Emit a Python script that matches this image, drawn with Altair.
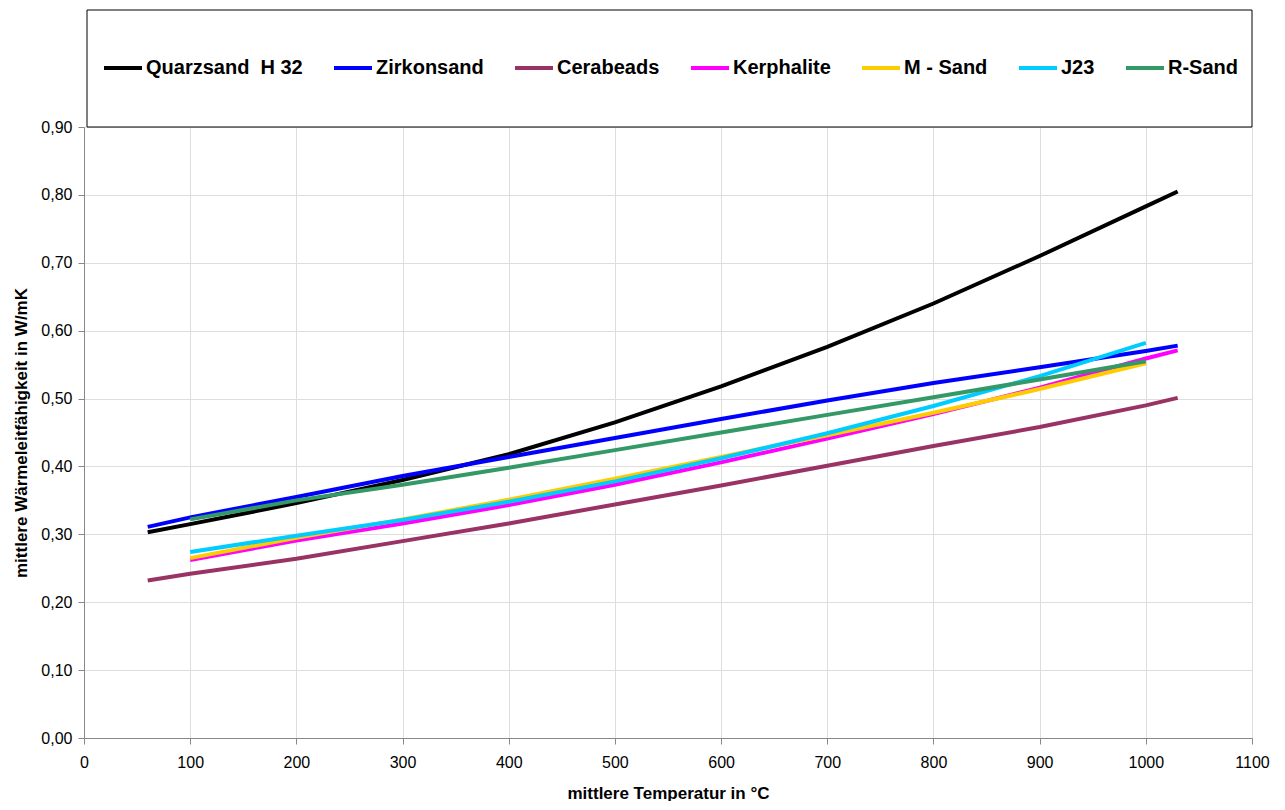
import altair as alt
import pandas as pd

# ---- data ----
series_names = ["Quarzsand\u00a0 H 32", "Zirkonsand", "Cerabeads", "Kerphalite",
                "M - Sand", "J23", "R-Sand"]
series_colors = ["#000000", "#0000FF", "#993366", "#FF00FF", "#FFCC00", "#00CCFF", "#339966"]

temp_long = [60, 100, 200, 300, 400, 500, 600, 700, 800, 900, 1000, 1030]
temp_kerph = [100, 200, 300, 400, 500, 600, 700, 800, 900, 1000, 1030]
temp_short = [100, 200, 300, 400, 500, 600, 700, 800, 900, 1000]

quarzsand = [0.303, 0.315, 0.346, 0.380, 0.418, 0.465, 0.518, 0.576, 0.640, 0.710, 0.783, 0.805]
zirkonsand = [0.311, 0.325, 0.355, 0.386, 0.414, 0.442, 0.470, 0.497, 0.523, 0.546, 0.570, 0.578]
cerabeads = [0.232, 0.242, 0.264, 0.290, 0.316, 0.344, 0.372, 0.401, 0.430, 0.458, 0.490, 0.501]
kerphalite = [0.262, 0.291, 0.316, 0.343, 0.373, 0.406, 0.441, 0.477, 0.516, 0.559, 0.571]
m_sand = [0.265, 0.295, 0.322, 0.351, 0.382, 0.414, 0.446, 0.479, 0.514, 0.552]
j23 = [0.274, 0.298, 0.321, 0.348, 0.378, 0.412, 0.449, 0.489, 0.533, 0.582]
r_sand = [0.322, 0.350, 0.373, 0.398, 0.424, 0.450, 0.476, 0.502, 0.528, 0.555]

x_ticks = [0, 100, 200, 300, 400, 500, 600, 700, 800, 900, 1000, 1100]
y_ticks = [0.0, 0.1, 0.2, 0.3, 0.4, 0.5, 0.6, 0.7, 0.8, 0.9]

series = [
    (series_names[0], temp_long, quarzsand),
    (series_names[1], temp_long, zirkonsand),
    (series_names[2], temp_long, cerabeads),
    (series_names[3], temp_kerph, kerphalite),
    (series_names[4], temp_short, m_sand),
    (series_names[5], temp_short, j23),
    (series_names[6], temp_short, r_sand),
]
rows = []
for name, xs, ys in series:
    for t, v in zip(xs, ys):
        rows.append({"Serie": name, "Temp": t, "Wert": v})
df = pd.DataFrame(rows)

W, H = 1168, 611
FONT = "Liberation Sans"

legend_box = alt.Chart(pd.DataFrame({"box": [0]})).mark_rect(
    fill="white", stroke="black", strokeWidth=1
).encode(
    x=alt.value(3), x2=alt.value(W), y=alt.value(-117), y2=alt.value(0)
)

lines = alt.Chart(df).mark_line(strokeWidth=4, strokeCap="butt").encode(
    x=alt.X("Temp:Q",
            scale=alt.Scale(domain=[0, 1100], nice=False),
            axis=alt.Axis(values=x_ticks, format="d", title="mittlere Temperatur in °C",
                          labelFontSize=16, labelPadding=10, tickSize=6,
                          titleFontSize=17, titleFontWeight="bold", titlePadding=15,
                          labelFlush=False)),
    y=alt.Y("Wert:Q",
            scale=alt.Scale(domain=[0, 0.9], nice=False),
            axis=alt.Axis(values=y_ticks, title="mittlere Wärmeleitfähigkeit in W/mK",
                          labelExpr="replace(format(datum.value, '.2f'), '.', ',')",
                          labelFontSize=16, labelPadding=6, tickSize=6,
                          titleFontSize=17, titleFontWeight="bold", titlePadding=10)),
    color=alt.Color("Serie:N",
                    scale=alt.Scale(domain=series_names, range=series_colors),
                    sort=series_names,
                    legend=alt.Legend(title=None, orient="none", direction="horizontal",
                                      legendX=18, legendY=-80,
                                      symbolType="stroke", symbolSize=1444,
                                      symbolStrokeWidth=4,
                                      labelFontSize=20, labelFontWeight="bold",
                                      labelFont=FONT, labelColor="black",
                                      labelOffset=2, columnPadding=23, padding=0,
                                      labelLimit=400)),
    detail="Serie:N",
)

chart = alt.layer(legend_box, lines).properties(
    width=W, height=H,
    padding={"left": 4, "top": 1, "right": 0, "bottom": 0},
).configure_view(
    stroke="#999999", strokeWidth=2
).configure_axis(
    labelFont=FONT, titleFont=FONT, labelColor="black", titleColor="black",
    gridColor="#666666", gridWidth=1, gridOpacity=1, domainColor="#222222", domainWidth=2,
    tickColor="#222222", tickWidth=1
).configure(background="white")

chart.save("out.html", embed_options={"renderer": "svg", "actions": False})
